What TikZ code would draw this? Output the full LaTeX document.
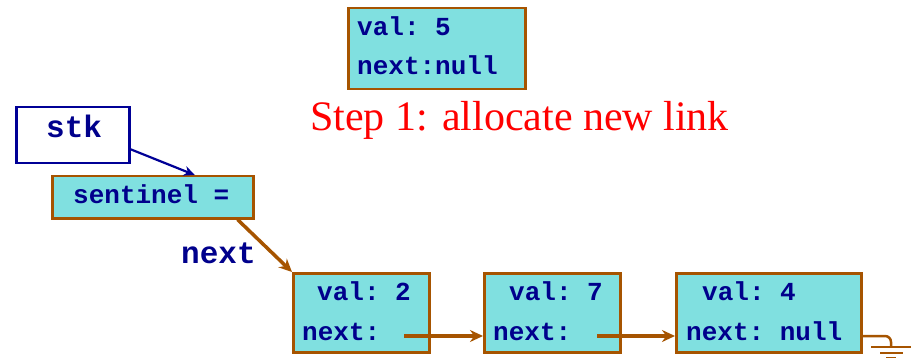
\documentclass[tikz,border=0pt]{standalone}
\usepackage{fontspec}
\setmainfont{Liberation Serif}
\setmonofont{Liberation Mono}
\usetikzlibrary{arrows.meta,calc}
\definecolor{brn}{RGB}{166,84,0}
\definecolor{cyanf}{RGB}{128,224,224}
\definecolor{navy}{RGB}{0,0,140}
\definecolor{stkblue}{RGB}{0,0,150}
\tikzset{
  box/.style={draw=brn, fill=cyanf, line width=2.5pt, inner sep=0pt, anchor=north west},
  txt/.style={text=navy, font=\ttfamily\bfseries\fontsize{26}{26}\selectfont, inner sep=0pt, anchor=base west},
  bigtxt/.style={text=navy, font=\ttfamily\bfseries\fontsize{31}{31}\selectfont, inner sep=0pt, anchor=base west},
  link/.style={draw=brn, line width=3.5pt, -{Stealth[length=13pt,width=12pt]}},
}
\begin{document}
\begin{tikzpicture}[x=1pt,y=-1pt]
\useasboundingbox (0,0) rectangle (920,358);
% new link
\node[box, minimum width=177pt, minimum height=81pt] (new) at (347,7) {};
\node[txt] (newv) at (357,36) {val: 5};
\node[txt] (newn) at (357,75) {next:null};
% title
\node[text=red, font=\fontsize{42}{42}\selectfont, inner sep=0pt, anchor=base west] (title) at (310,131) {Step 1: allocate new link};
% stk
\node[draw=stkblue, fill=white, line width=2.5pt, inner sep=0pt, anchor=north west, minimum width=113pt, minimum height=56pt] (stk) at (15,106) {};
\node[bigtxt] (stkt) at (46,138) {stk};
% sentinel
\node[box, minimum width=201pt, minimum height=42pt] (sent) at (51,175) {};
\node[txt] (sentt) at (73,203) {sentinel =};
\node[bigtxt] (nextlbl) at (181,263) {next};
% list nodes
\node[box, minimum width=136pt, minimum height=79pt] (n1) at (292,272) {};
\node[txt] (n1v) at (317,300) {val: 2};
\node[txt] (n1n) at (302,340) {next:};
\node[box, minimum width=136pt, minimum height=79pt] (n2) at (483,272) {};
\node[txt] (n2v) at (509,300) {val: 7};
\node[txt] (n2n) at (493,340) {next:};
\node[box, minimum width=185pt, minimum height=79pt] (n3) at (675,272) {};
\node[txt] (n3v) at (702,300) {val: 4};
\node[txt] (n3n) at (686,340) {next: null};
% connectors
\draw[stkblue, line width=2.2pt, -{Stealth[length=11pt,width=10pt]}] ([yshift=-14pt]stk.east) -- ([xshift=42pt]sent.north);
\draw[link] ([xshift=-17pt]sent.south east) -- (n1.north west);
\coordinate (p1) at (404,336);
\coordinate (p2) at (597,336);
\draw[link] (p1) -- (p1 -| n2.west);
\draw[link] (p2) -- (p2 -| n3.west);
% ground
\coordinate (g0) at (891,347);
\draw[brn, line width=2.5pt] (n3.east |- p2) -- (885,336) arc[start angle=90, end angle=0, radius=6pt] -- (g0);
\draw[brn, line width=2.5pt] (g0) ++(-20,0) -- ++(40,0);
\draw[brn, line width=2.5pt] (g0) ++(-11,6) -- ++(23,0);
\draw[brn, line width=2.5pt] (g0) ++(-5,11) -- ++(10,0);
\end{tikzpicture}
\end{document}
